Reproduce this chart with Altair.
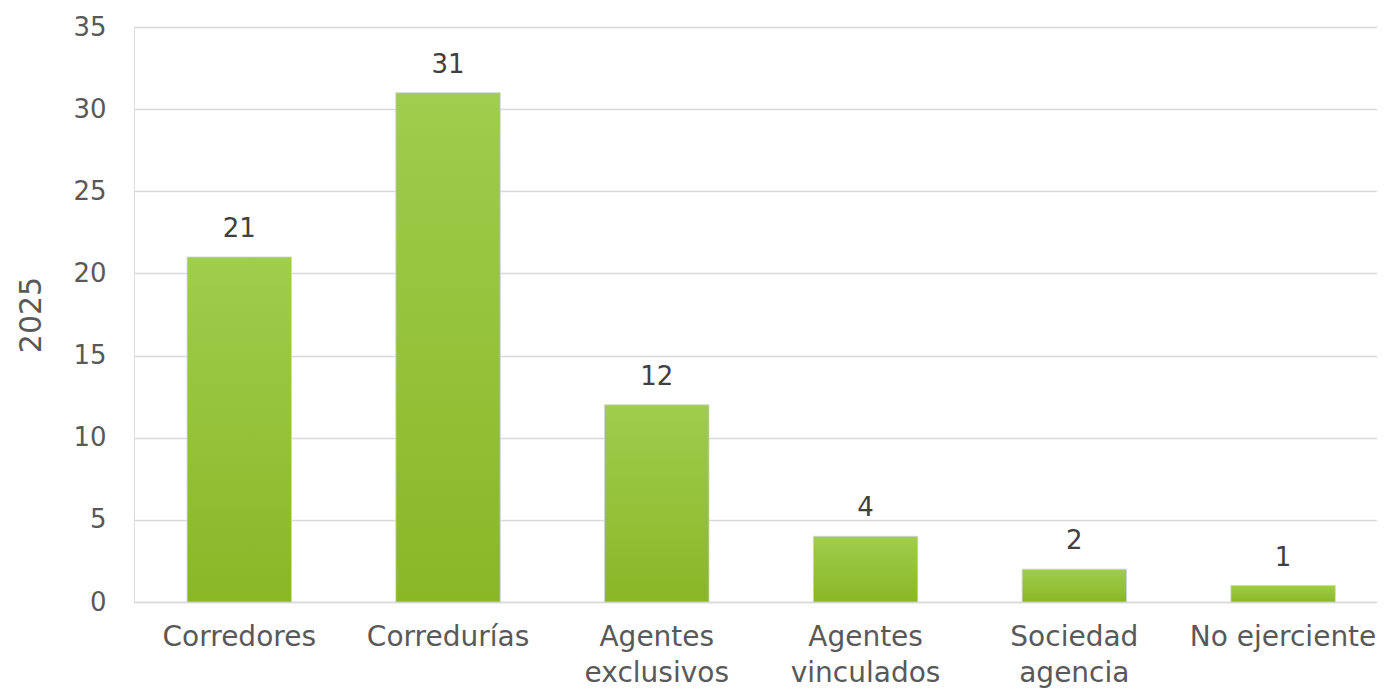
import altair as alt
import pandas as pd

categories = ["Corredores", "Corredurías", "Agentes exclusivos", "Agentes vinculados", "Sociedad agencia", "No ejerciente"]
values = [21, 31, 12, 4, 2, 1]

df = pd.DataFrame({"cat": categories, "val": values})

FONT = "DejaVu Sans"
GRAY = "#595959"

gradient = alt.Gradient(
    gradient="linear",
    stops=[alt.GradientStop(color="#9fcd4d", offset=0), alt.GradientStop(color="#8ab726", offset=1)],
    x1=0, x2=0, y1=0, y2=1,
)

x = alt.X("cat:N", sort=categories, title=None,
          scale=alt.Scale(paddingInner=0.5, paddingOuter=0.227, align=0.56),
          axis=alt.Axis(labelAngle=0, labelFont=FONT, labelFontSize=28, labelColor=GRAY,
                        labelPadding=21, labelBaseline="top", labelLineHeight=36,
                        labelExpr="datum.label == 'No ejerciente' ? datum.label : split(datum.label, ' ')",
                        ticks=False, domain=True, domainColor="#d9d9d9", domainWidth=1.5,
                        labelLimit=400))

y = alt.Y("val:Q", title="2025",
          scale=alt.Scale(domain=[0, 35]),
          axis=alt.Axis(values=[0, 5, 10, 15, 20, 25, 30, 35], labelFont=FONT, labelFontSize=26,
                        labelColor=GRAY, labelPadding=28, ticks=False, domain=False,
                        grid=True, gridColor="#d9d9d9", gridWidth=1.5,
                        titleFont=FONT, titleFontSize=30, titleFontWeight="normal",
                        titleColor=GRAY, titlePadding=26))

bars = alt.Chart(df).mark_bar(color=gradient, stroke="#d0d0d0", strokeWidth=0.8).encode(x=x, y=y)

labels = alt.Chart(df).mark_text(font=FONT, fontSize=26, color="#404040", baseline="bottom", dy=-15).encode(
    x=alt.X("cat:N", sort=categories), y="val:Q", text="val:Q")

chart = (bars + labels).properties(
    width=1243, height=575,
    autosize=alt.AutoSizeParams(type="none"),
    padding={"left": 126, "top": 19, "right": 0, "bottom": 88},
).configure_view(stroke=None).configure(background="white")

chart.save("out.html", embed_options={"renderer": "svg", "actions": False})
